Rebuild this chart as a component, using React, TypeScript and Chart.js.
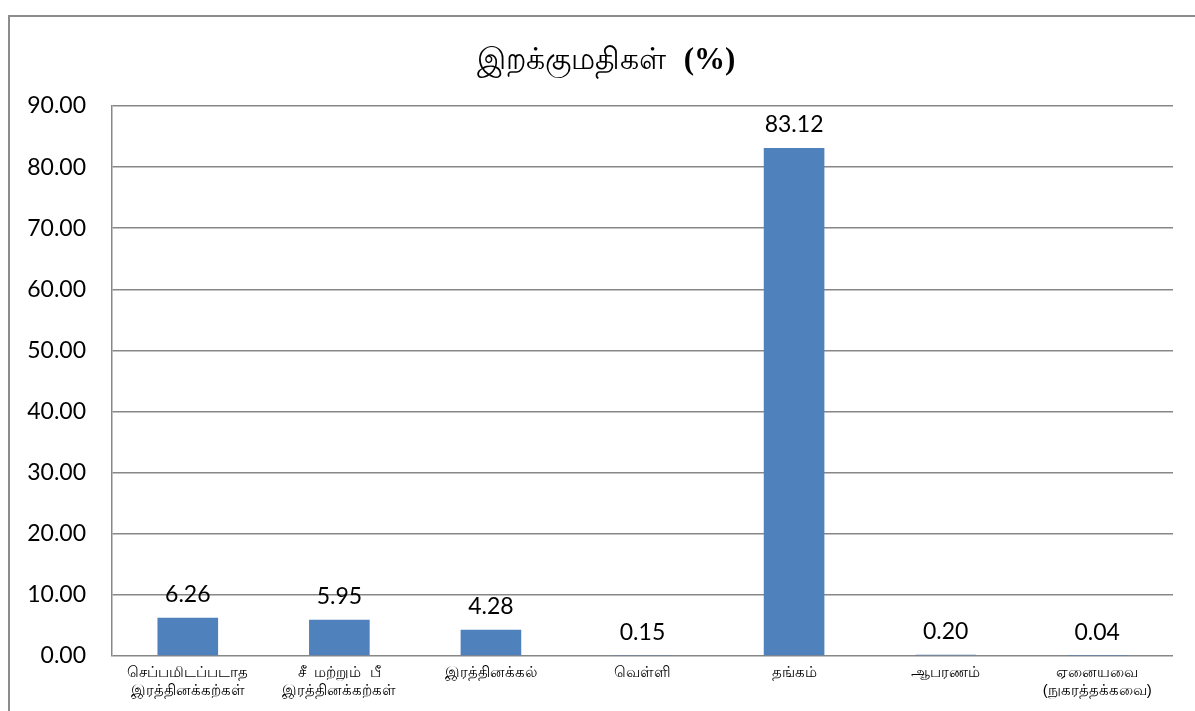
import React, { useEffect, useRef } from "react";
import { Chart, registerables } from "chart.js";

Chart.register(...registerables);

const categories: (string | string[])[] = [
  ["செப்பமிடப்படாத", "இரத்தினக்கற்கள்"],
  ["சீ  மற்றும்  பீ", "இரத்தினக்கற்கள்"],
  "இரத்தினக்கல்",
  "வெள்ளி",
  "தங்கம்",
  "ஆபரணம்",
  ["ஏனையவை", "(நுகரத்தக்கவை)"],
];
const values: number[] = [6.26, 5.95, 4.28, 0.15, 83.12, 0.2, 0.04];
const titleMain = "இறக்குமதிகள்";
const titleSuffix = "(%)";

const NUM_FONT = "Lato, 'Open Sans', sans-serif";

export default function App() {
  const ref = useRef<HTMLCanvasElement | null>(null);
  useEffect(() => {
    if (!ref.current) return;
    const labelPlugin = {
      id: "valueLabels",
      afterDatasetsDraw(chart: any) {
        const ctx = chart.ctx;
        const meta = chart.getDatasetMeta(0);
        ctx.save();
        ctx.font = `23px ${NUM_FONT}`;
        ctx.fillStyle = "#000";
        ctx.textAlign = "center";
        ctx.textBaseline = "middle";
        meta.data.forEach((bar: any, i: number) => {
          ctx.fillText(values[i].toFixed(2), bar.x, bar.y - 23);
        });
        ctx.restore();
      },
    };
    const titlePlugin = {
      id: "mixedTitle",
      afterDraw(chart: any) {
        const ctx = chart.ctx;
        ctx.save();
        ctx.textBaseline = "middle";
        ctx.fillStyle = "#000";
        const f1 = "30px 'Liberation Serif', serif";
        const f2 = "bold 31px 'Liberation Serif', serif";
        const gap = 18;
        ctx.font = f1;
        const w1 = ctx.measureText(titleMain).width;
        ctx.font = f2;
        const w2 = ctx.measureText(titleSuffix).width;
        const cx = 596;
        const x0 = cx - (w1 + gap + w2) / 2;
        const y = 44;
        ctx.textAlign = "left";
        ctx.font = f1;
        ctx.fillText(titleMain, x0, y);
        ctx.font = f2;
        ctx.fillText(titleSuffix, x0 + w1 + gap, y);
        ctx.restore();
      },
    };
    const chart = new Chart(ref.current, {
      type: "bar",
      data: {
        labels: categories,
        datasets: [
          {
            data: values,
            backgroundColor: "#4f81bd",
            barPercentage: 0.8,
            categoryPercentage: 0.5,
          },
        ],
      },
      options: {
        animation: false,
        responsive: false,
        maintainAspectRatio: false,
        layout: { padding: { top: 89, right: 22, left: 0, bottom: 0 } },
        plugins: {
          legend: { display: false },
          title: { display: false },
          tooltip: { enabled: false },
        },
        scales: {
          x: {
            grid: { display: false, drawTicks: false },
            border: { display: false },
            ticks: {
              color: "#000",
              font: { family: "'Liberation Sans', sans-serif", size: 15 },
              padding: 8,
              maxRotation: 0,
              autoSkip: false,
            },
            afterFit(scale: any) {
              scale.height = 55;
            },
          },
          y: {
            min: 0,
            max: 90,
            ticks: {
              stepSize: 10,
              color: "#000",
              font: { family: NUM_FONT, size: 23 },
              padding: 26,
              callback: (v: any) => Number(v).toFixed(2),
            },
            grid: { color: "#878787", lineWidth: 1.5, drawTicks: false },
            border: { display: true, color: "#878787", width: 1.5 },
            afterFit(scale: any) {
              scale.width = 102;
            },
          },
        },
      },
      plugins: [labelPlugin, titlePlugin],
    });
    return () => chart.destroy();
  }, []);
  return (
    <div
      style={{
        position: "fixed",
        left: 8,
        top: 15,
        width: 1187,
        height: 696,
        borderLeft: "2px solid #8c8c8c",
        borderTop: "2px solid #8c8c8c",
        background: "#fff",
      }}
    >
      <canvas ref={ref} width={1185} height={694} style={{ display: "block" }} />
    </div>
  );
}
